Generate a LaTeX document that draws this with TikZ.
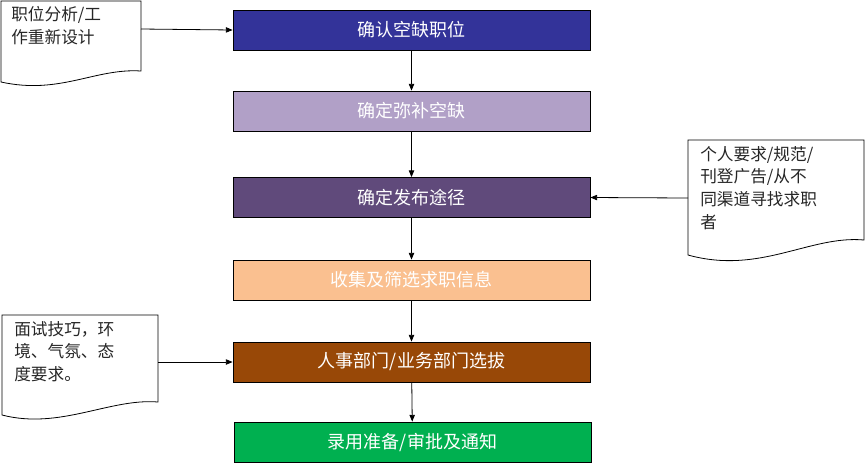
\documentclass[tikz,border=0pt]{standalone}
\usepackage{fontspec}
\newfontfamily\cjk{Noto Sans CJK SC}
\usetikzlibrary{arrows.meta}
\begin{document}
\begin{tikzpicture}[x=0.75pt,y=-0.75pt,
  box/.style={draw=black,line width=0.6pt,minimum width=357*0.75pt,minimum height=40*0.75pt,inner sep=0pt,text=white,font=\cjk\fontsize{13.5}{16}\selectfont},
  doct/.style={align=left,anchor=north west,inner sep=0pt,text=black!85,font=\cjk\fontsize{12.5}{17}\selectfont},
  arr/.style={-{Triangle[length=5pt,width=4pt]},line width=0.6pt}]
\useasboundingbox (0,0) rectangle (866,465);
\definecolor{c1}{HTML}{333399}\definecolor{c2}{HTML}{B1A0C7}\definecolor{c3}{HTML}{604A7B}
\definecolor{c4}{HTML}{FAC090}\definecolor{c5}{HTML}{984807}\definecolor{c6}{HTML}{00B050}
\node[box,fill=c1] (b1) at (411.5,30) {确认空缺职位};
\node[box,fill=c2] (b2) at (411.5,111) {确定弥补空缺};
\node[box,fill=c3] (b3) at (411.5,197.5) {确定发布途径};
\node[box,fill=c4] (b4) at (411.5,280) {收集及筛选求职信息};
\node[box,fill=c5] (b5) at (411.5,362) {人事部门/业务部门选拔};
\node[box,fill=c6] (b6) at (412.5,442) {录用准备/审批及通知};
\foreach \a/\b in {b1/b2,b2/b3,b3/b4,b4/b5,b5/b6}
  \draw[arr] (\a) -- (\b);
% documents
\draw[line width=0.6pt,fill=white] (1,1) -- (141,1) -- (141,71) .. controls (95,68) and (60,95) .. (1,82) -- cycle;
\node[doct] (d1) at (11,6) {职位分析/工\\作重新设计};
\coordinate (d1e) at (141,29);
\draw[arr] (d1e) -- (b1.west);
\draw[line width=0.6pt,fill=white] (688,140) -- (864,140) -- (864,240) .. controls (810,235) and (760,275) .. (688,255) -- cycle;
\node[doct] (d2) at (700,146) {个人要求/规范/\\刊登广告/从不\\同渠道寻找求职\\者};
\coordinate (d2e) at (688,198);
\draw[arr] (d2e) -- (b3.east);
\draw[line width=0.6pt,fill=white] (2,315) -- (158,315) -- (158,402) .. controls (110,398) and (60,430) .. (2,415) -- cycle;
\node[doct] (d3) at (14,321) {面试技巧，环\\境、气氛、态\\度要求。};
\coordinate (d3e) at (158,362);
\draw[arr] (d3e) -- (b5.west);
\end{tikzpicture}
\end{document}
